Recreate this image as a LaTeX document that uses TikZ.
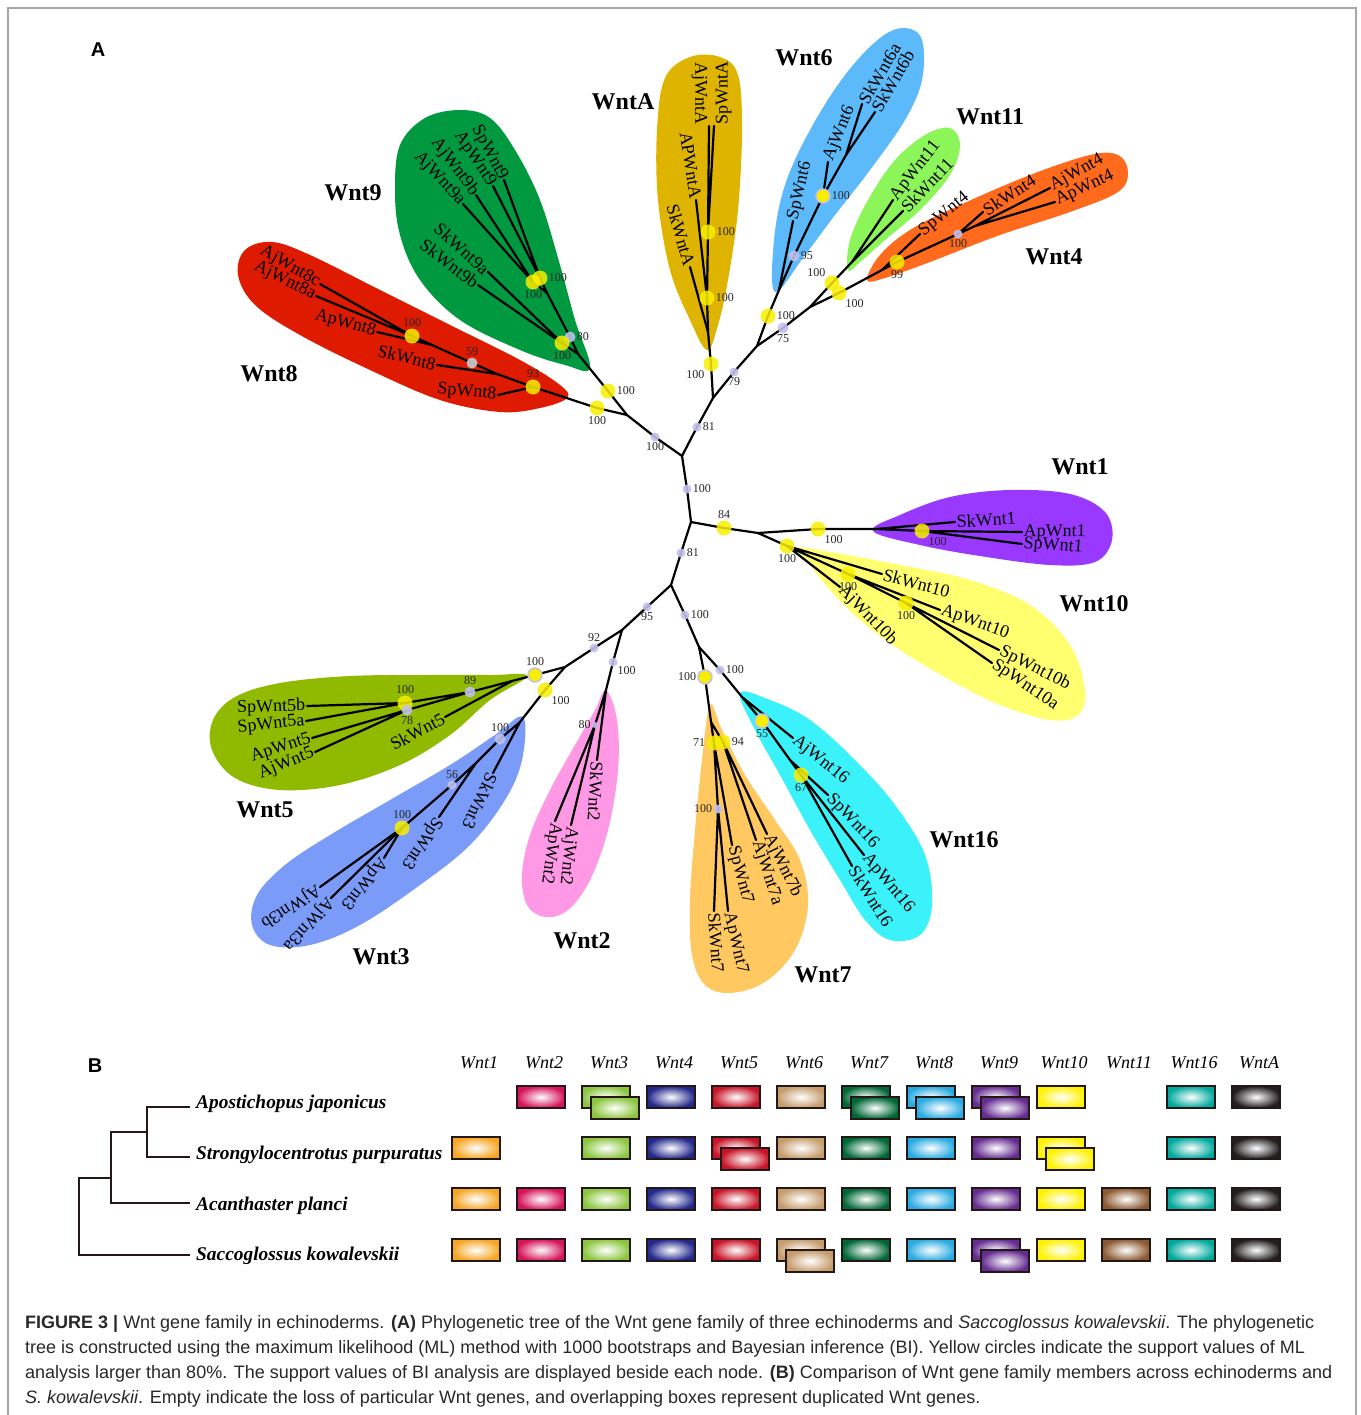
\documentclass[tikz,border=0pt]{standalone}
\usepackage{fontspec}
\setmainfont{Liberation Serif}
\setsansfont{Liberation Sans}
\usetikzlibrary{shapes}
% clade colours
\definecolor{cWnt9}{RGB}{0,153,64}
\definecolor{cWnt8}{RGB}{222,26,0}
\definecolor{cWntA}{RGB}{222,180,0}
\definecolor{cWnt6}{RGB}{92,185,250}
\definecolor{cWnt11}{RGB}{140,245,90}
\definecolor{cWnt4}{RGB}{255,106,28}
\definecolor{cWnt1}{RGB}{153,56,255}
\definecolor{cWnt10}{RGB}{255,255,112}
\definecolor{cWnt5}{RGB}{143,186,0}
\definecolor{cWnt3}{RGB}{122,156,248}
\definecolor{cWnt2}{RGB}{255,153,230}
\definecolor{cWnt7}{RGB}{255,200,96}
\definecolor{cWnt16}{RGB}{60,242,250}
\definecolor{mly}{RGB}{248,238,0}
\definecolor{bilav}{RGB}{192,192,236}
% box colours (Wnt1 ... WntA)
\definecolor{wntc1}{RGB}{245,166,35}
\definecolor{wntc2}{RGB}{214,20,90}
\definecolor{wntc3}{RGB}{140,198,63}
\definecolor{wntc4}{RGB}{35,40,140}
\definecolor{wntc5}{RGB}{200,20,40}
\definecolor{wntc6}{RGB}{198,156,109}
\definecolor{wntc7}{RGB}{0,104,55}
\definecolor{wntc8}{RGB}{41,171,226}
\definecolor{wntc9}{RGB}{102,45,145}
\definecolor{wntc10}{RGB}{255,242,0}
\definecolor{wntc11}{RGB}{140,90,50}
\definecolor{wntc12}{RGB}{0,169,157}
\definecolor{wntc13}{RGB}{35,31,32}
\definecolor{boxedge}{RGB}{35,24,21}
\definecolor{captext}{RGB}{40,40,40}
\tikzstyle{branch}=[line width=2.2pt,black,line cap=round]
\tikzstyle{leaf}=[font=\fontsize{18}{18}\selectfont,inner sep=1.5pt]
\tikzstyle{clade}=[font=\fontsize{24}{24}\selectfont\bfseries]
\tikzstyle{bs}=[font=\fontsize{12}{12}\selectfont,text=black!85,text opacity=1,inner sep=1pt]
\tikzstyle{ydot}=[circle,fill=mly,fill opacity=0.85,minimum size=15pt,inner sep=0pt]
\tikzstyle{pdot}=[circle,fill=bilav,fill opacity=0.9,minimum size=9pt,inner sep=0pt]
\tikzstyle{bdot}=[circle,fill=mly,draw=bilav,line width=1.5pt,minimum size=14pt,inner sep=0pt]
\tikzstyle{panel}=[font=\sffamily\bfseries\fontsize{20}{20}\selectfont]
\tikzstyle{species}=[font=\fontsize{19.4}{19}\selectfont\bfseries\itshape,anchor=base west,inner sep=0pt]
\tikzstyle{colhead}=[font=\fontsize{18}{18}\selectfont\itshape,anchor=base,inner sep=0pt]
\tikzstyle{genebox}=[draw=boxedge,line width=1.3pt,minimum width=48pt,minimum height=22pt,inner sep=0pt]
\tikzstyle{sptree}=[line width=1.5pt,boxedge]
\tikzstyle{caption}=[font=\sffamily\fontsize{18}{25}\selectfont,text=captext,anchor=base west,inner sep=0pt]

\begin{document}
\begin{tikzpicture}[x=1pt,y=-1pt]
\useasboundingbox (0,0) rectangle (1360,1415);
\draw[gray!70,line width=1.2pt] (8,1425) -- (8,8) -- (1356,8) -- (1356,1425);
\node[panel] (A) at (98,50) {A};

% clade areas
\fill[cWnt9] plot[smooth cycle,tension=0.6] coordinates {(590,368) (575,320) (560,265) (540,200) (515,150) (490,118) (460,110) (425,118) (400,145) (395,190) (400,235) (420,280) (460,320) (520,350) (565,365)};
\fill[cWnt8] plot[smooth cycle,tension=0.6] coordinates {(567,398) (540,408) (500,412) (440,400) (370,370) (300,335) (255,305) (238,275) (245,250) (272,242) (310,255) (380,290) (450,325) (520,360) (560,385)};
\fill[cWntA] plot[smooth cycle,tension=0.6] coordinates {(707,350) (690,320) (670,270) (658,200) (657,130) (665,78) (690,57) (720,57) (738,75) (742,130) (738,210) (728,280) (718,325)};
\fill[cWnt6] plot[smooth cycle,tension=0.6] coordinates {(775,292) (774,240) (785,185) (810,130) (845,75) (880,38) (905,28) (922,40) (922,80) (905,120) (870,170) (835,215) (805,255)};
\fill[cWnt11] plot[smooth cycle,tension=0.6] coordinates {(848,270) (850,240) (868,200) (895,160) (925,135) (950,128) (960,145) (950,175) (920,210) (885,240) (860,262)};
\fill[cWnt4] plot[smooth cycle,tension=0.6] coordinates {(867,280) (880,255) (910,230) (960,205) (1030,175) (1090,155) (1118,155) (1128,172) (1118,192) (1070,212) (1000,235) (930,262) (885,278)};
\fill[cWnt1] plot[smooth cycle,tension=0.6] coordinates {(873,531) (900,515) (950,497) (1010,490) (1070,494) (1105,512) (1112,540) (1095,562) (1050,565) (980,556) (920,545)};
\fill[cWnt10] plot[smooth cycle,tension=0.6] coordinates {(797,548) (830,552) (900,565) (970,580) (1030,605) (1070,645) (1085,690) (1078,715) (1050,720) (1000,705) (950,680) (900,650) (860,620) (830,590) (810,565)};
\fill[cWnt5] plot[smooth cycle,tension=0.6] coordinates {(527,676) (490,700) (450,735) (400,765) (340,785) (280,790) (235,778) (212,750) (213,720) (235,697) (280,683) (350,676) (430,675) (490,675)};
\fill[cWnt3] plot[smooth cycle,tension=0.6] coordinates {(523,717) (522,760) (505,800) (470,845) (420,885) (360,925) (310,945) (270,945) (252,925) (257,895) (285,865) (330,835) (390,800) (450,765) (495,735)};
\fill[cWnt2] plot[smooth cycle,tension=0.6] coordinates {(606,690) (617,720) (618,770) (608,830) (590,880) (568,910) (545,917) (527,905) (522,875) (530,835) (550,790) (575,745) (595,710)};
\fill[cWnt7] plot[smooth cycle,tension=0.6] coordinates {(710,705) (722,730) (745,775) (775,820) (800,860) (808,905) (795,950) (765,982) (730,993) (705,985) (692,955) (690,900) (695,830) (702,760)};
\fill[cWnt16] plot[smooth cycle,tension=0.6] coordinates {(740,693) (770,700) (810,720) (855,760) (895,805) (925,855) (932,905) (920,935) (890,940) (865,920) (840,880) (810,830) (780,775) (755,730)};

% tree points
\coordinate (c1) at (682,456);
\coordinate (p100a) at (655,437);
\coordinate (u98) at (627,415);
\coordinate (y8a) at (597,408);
\coordinate (n8) at (533,387);
\coordinate (n8s) at (497,374);
\coordinate (g59) at (472,363);
\coordinate (n8p) at (432,345);
\coordinate (y8c) at (412,336);
\coordinate (y9a) at (608,391);
\coordinate (n9) at (578,354);
\coordinate (p80) at (570,337);
\coordinate (n9u) at (547,293);
\coordinate (y9sp) at (540,278);
\coordinate (y9aj) at (533,282);
\coordinate (y9sk) at (562,343);
\coordinate (p81a) at (697,427);
\coordinate (uA) at (713,398);
\coordinate (yA1) at (711,364);
\coordinate (nA2) at (708,332);
\coordinate (yA2) at (707,298);
\coordinate (yA3) at (708,232);
\coordinate (p79) at (734,372);
\coordinate (u6) at (757,346);
\coordinate (y6) at (768,316);
\coordinate (n6) at (779,290);
\coordinate (p95) at (794,256);
\coordinate (b6) at (823,196);
\coordinate (n6sk) at (846,155);
\coordinate (p75) at (783,328);
\coordinate (u114) at (810,307);
\coordinate (y11) at (832,283);
\coordinate (n11) at (852,262);
\coordinate (y4) at (839,293);
\coordinate (n4) at (882,270);
\coordinate (y99) at (897,262);
\coordinate (p4) at (958,234);
\coordinate (n4aj) at (975,226);
\coordinate (p100b) at (687,489);
\coordinate (c2) at (691,522);
\coordinate (y84) at (724,528);
\coordinate (u110) at (758,533);
\coordinate (y1a) at (818,529);
\coordinate (n1) at (876,529);
\coordinate (y1b) at (922,531);
\coordinate (y10a) at (787,546);
\coordinate (y10b) at (848,574);
\coordinate (y10c) at (906,603);
\coordinate (p81b) at (681,553);
\coordinate (c3) at (671,585);
\coordinate (p95b) at (647,607);
\coordinate (u235) at (622,630);
\coordinate (p92) at (594,648);
\coordinate (u35) at (565,667);
\coordinate (b5) at (535,675);
\coordinate (n5) at (512,681);
\coordinate (p89) at (470,692);
\coordinate (y5) at (405,703);
\coordinate (p78) at (407,710);
\coordinate (y3a) at (545,690);
\coordinate (n3) at (520,722);
\coordinate (p3) at (500,739);
\coordinate (n3s) at (476,763);
\coordinate (p56) at (452,785);
\coordinate (y3b) at (402,828);
\coordinate (p2) at (613,662);
\coordinate (n2) at (606,690);
\coordinate (p80b) at (595,725);
\coordinate (p100c) at (685,615);
\coordinate (u716) at (699,647);
\coordinate (b7) at (705,677);
\coordinate (n7) at (711,722);
\coordinate (y71) at (714,743);
\coordinate (y94) at (723,742);
\coordinate (p7) at (718,809);
\coordinate (p16) at (720,670);
\coordinate (n16) at (742,697);
\coordinate (b55) at (762,721);
\coordinate (n16b) at (790,760);
\coordinate (y67) at (801,775);

% leaves
\node[leaf,rotate=-30,anchor=east] (AjWnt8c) at (320,284) {AjWnt8c};
\node[leaf,rotate=-26,anchor=east] (AjWnt8a) at (316,296) {AjWnt8a};
\node[leaf,rotate=-15,anchor=east] (ApWnt8) at (377,332) {ApWnt8};
\node[leaf,rotate=-14,anchor=east] (SkWnt8) at (437,365) {SkWnt8};
\node[leaf,rotate=-5,anchor=east] (SpWnt8) at (498,395) {SpWnt8};
\node[leaf,rotate=-62,anchor=east] (SpWnt9) at (504,180) {SpWnt9};
\node[leaf,rotate=-56,anchor=east] (ApWnt9) at (493,186) {ApWnt9};
\node[leaf,rotate=-53,anchor=east] (AjWnt9b) at (476,195) {AjWnt9b};
\node[leaf,rotate=-47,anchor=east] (AjWnt9a) at (463,204) {AjWnt9a};
\node[leaf,rotate=-42,anchor=east] (SkWnt9a) at (488,272) {SkWnt9a};
\node[leaf,rotate=-37,anchor=east] (SkWnt9b) at (478,285) {SkWnt9b};
\node[leaf,rotate=-90,anchor=north east] (AjWntA) at (709,126) {AjWntA};
\node[leaf,rotate=90,anchor=north west] (SpWntA) at (714,126) {SpWntA};
\node[leaf,rotate=-81,anchor=east] (APWntA) at (696,200) {APWntA};
\node[leaf,rotate=-74,anchor=east] (SkWntA) at (690,267) {SkWntA};
\node[leaf,rotate=77,anchor=west] (SpWnt6) at (793,221) {SpWnt6};
\node[leaf,rotate=68,anchor=west] (AjWnt6) at (828,162) {AjWnt6};
\node[leaf,rotate=60,anchor=west] (SkWnt6a) at (862,104) {SkWnt6a};
\node[leaf,rotate=60,anchor=west] (SkWnt6b) at (875,112) {SkWnt6b};
\node[leaf,rotate=52,anchor=west] (ApWnt11) at (893,200) {ApWnt11};
\node[leaf,rotate=47,anchor=west] (SkWnt11) at (903,211) {SkWnt11};
\node[leaf,rotate=39,anchor=west] (SpWnt4) at (920,234) {SpWnt4};
\node[leaf,rotate=33,anchor=west] (SkWnt4) at (983,212) {SkWnt4};
\node[leaf,rotate=29,anchor=west] (AjWnt4) at (1050,188) {AjWnt4};
\node[leaf,rotate=25,anchor=west] (ApWnt4) at (1055,202) {ApWnt4};
\node[leaf,rotate=4,anchor=west] (SkWnt1) at (955,522) {SkWnt1};
\node[leaf,rotate=-1,anchor=west] (ApWnt1) at (1022,532) {ApWnt1};
\node[leaf,rotate=-4,anchor=west] (SpWnt1) at (1022,544) {SpWnt1};
\node[leaf,rotate=-15,anchor=west] (SkWnt10) at (882,574) {SkWnt10};
\node[leaf,rotate=-20,anchor=west] (ApWnt10) at (940,610) {ApWnt10};
\node[leaf,rotate=-27,anchor=west] (SpWnt10b) at (999,650) {SpWnt10b};
\node[leaf,rotate=-34,anchor=west] (SpWnt10a) at (992,663) {SpWnt10a};
\node[leaf,rotate=-46,anchor=west] (AjWnt10b) at (840,587) {AjWnt10b};
\node[leaf,rotate=-39,anchor=west] (AjWnt16) at (793,738) {AjWnt16};
\node[leaf,rotate=-47,anchor=west] (SpWnt16) at (828,795) {SpWnt16};
\node[leaf,rotate=-50,anchor=west] (ApWnt16) at (864,855) {ApWnt16};
\node[leaf,rotate=-58,anchor=west] (SkWnt16) at (852,866) {SkWnt16};
\node[leaf,rotate=-64,anchor=west] (AjWnt7b) at (767,834) {AjWnt7b};
\node[leaf,rotate=-72,anchor=west] (AjWnt7a) at (756,840) {AjWnt7a};
\node[leaf,rotate=-75,anchor=west] (SpWnt7) at (732,845) {SpWnt7};
\node[leaf,rotate=-77,anchor=west] (ApWnt7) at (728,911) {ApWnt7};
\node[leaf,rotate=-86,anchor=west] (SkWnt7) at (714,911) {SkWnt7};
\node[leaf,rotate=-93,anchor=west] (SkWnt2) at (597,760) {SkWnt2};
\node[leaf,rotate=-96,anchor=west] (AjWnt2) at (571,825) {AjWnt2};
\node[leaf,rotate=-98,anchor=west] (ApWnt2) at (555,821) {ApWnt2};
\node[leaf,rotate=-115,anchor=west] (SkWnt3) at (493,773) {SkWnt3};
\node[leaf,rotate=-124,anchor=west] (SpWnt3) at (439,817) {SpWnt3};
\node[leaf,rotate=-129,anchor=west] (ApWnt3) at (384,858) {ApWnt3};
\node[leaf,rotate=-132,anchor=west] (AjWnt3a) at (331,898) {AjWnt3a};
\node[leaf,rotate=-147,anchor=west] (AjWnt3b) at (320,887) {AjWnt3b};
\node[leaf,rotate=2,anchor=east] (SpWnt5b) at (307,706) {SpWnt5b};
\node[leaf,rotate=6,anchor=east] (SpWnt5a) at (306,721) {SpWnt5a};
\node[leaf,rotate=18,anchor=east] (ApWnt5) at (312,738) {ApWnt5};
\node[leaf,rotate=22,anchor=east] (AjWnt5) at (315,752) {AjWnt5};
\node[leaf,rotate=28,anchor=east] (SkWnt5) at (445,717) {SkWnt5};

% branches
\draw[branch] (u98) -- (p100a) -- (c1) -- (p81a) -- (uA);
\draw[branch] (c1) -- (p100b) -- (c2) -- (p81b) -- (c3);
\draw[branch] (u98) -- (y8a) -- (n8) -- (n8s) -- (g59) -- (n8p) -- (y8c);
\draw[branch] (n8) -- (SpWnt8.east) (n8s) -- (SkWnt8.east) (n8p) -- (ApWnt8.east)
  (y8c) -- (AjWnt8c.east) (y8c) -- (AjWnt8a.east);
\draw[branch] (u98) -- (y9a) -- (n9) -- (p80) -- (n9u) (n9) -- (y9sk)
  (n9u) -- (y9sp) (n9u) -- (y9aj);
\draw[branch] (y9sp) -- (SpWnt9.east) (y9sp) -- (ApWnt9.east) (y9aj) -- (AjWnt9b.east)
  (y9aj) -- (AjWnt9a.east) (y9sk) -- (SkWnt9a.east) (y9sk) -- (SkWnt9b.east);
\draw[branch] (uA) -- (yA1) -- (nA2) -- (yA2) -- (yA3);
\draw[branch] (nA2) -- (SkWntA.east) (yA2) -- (APWntA.east) (yA3) -- (AjWntA.north east)
  (yA3) -- (SpWntA.north west);
\draw[branch] (uA) -- (p79) -- (u6) -- (y6) -- (n6) -- (p95) -- (b6) -- (n6sk);
\draw[branch] (n6) -- (SpWnt6.west) (b6) -- (AjWnt6.west) (n6sk) -- (SkWnt6a.west)
  (n6sk) -- (SkWnt6b.west);
\draw[branch] (u6) -- (p75) -- (u114) -- (y11) -- (n11) (n11) -- (ApWnt11.west)
  (n11) -- (SkWnt11.west);
\draw[branch] (u114) -- (y4) -- (n4) -- (y99) -- (p4) -- (n4aj) (n4) -- (SpWnt4.west)
  (p4) -- (SkWnt4.west) (n4aj) -- (AjWnt4.west) (n4aj) -- (ApWnt4.west);
\draw[branch] (c2) -- (y84) -- (u110) -- (y1a) -- (n1) -- (y1b) (n1) -- (SkWnt1.west)
  (y1b) -- (ApWnt1.west) (y1b) -- (SpWnt1.west);
\draw[branch] (u110) -- (y10a) -- (y10b) -- (y10c) (y10a) -- (SkWnt10.west)
  (y10a) -- (AjWnt10b.west) (y10b) -- (ApWnt10.west) (y10c) -- (SpWnt10b.west)
  (y10c) -- (SpWnt10a.west);
\draw[branch] (c3) -- (p95b) -- (u235) -- (p92) -- (u35) -- (b5) -- (n5) -- (p89) -- (y5)
  (p89) -- (p78);
\draw[branch] (n5) -- (SkWnt5.east) (y5) -- (SpWnt5b.east) (y5) -- (SpWnt5a.east)
  (p78) -- (ApWnt5.east) (p78) -- (AjWnt5.east);
\draw[branch] (u35) -- (y3a) -- (n3) -- (p3) -- (n3s) -- (p56) -- (y3b)
  (n3) -- (SkWnt3.west) (n3s) -- (SpWnt3.west) (y3b) -- (ApWnt3.west)
  (y3b) -- (AjWnt3a.west) (y3b) -- (AjWnt3b.west);
\draw[branch] (u235) -- (p2) -- (n2) -- (p80b) (n2) -- (SkWnt2.west)
  (p80b) -- (AjWnt2.west) (p80b) -- (ApWnt2.west);
\draw[branch] (c3) -- (p100c) -- (u716) -- (b7) -- (n7) -- (y71) -- (p7) (n7) -- (y94)
  (y71) -- (SpWnt7.west) (p7) -- (SkWnt7.west) (p7) -- (ApWnt7.west)
  (y94) -- (AjWnt7a.west) (y94) -- (AjWnt7b.west);
\draw[branch] (u716) -- (p16) -- (n16) -- (b55) -- (n16b) -- (y67) (n16) -- (AjWnt16.west)
  (n16b) -- (SpWnt16.west) (y67) -- (ApWnt16.west) (y67) -- (SkWnt16.west);

% support values
\node[pdot,label={[bs]below:100}] (d-p100a) at (p100a) {};
\node[pdot,label={[bs]right:81}] (d-p81a) at (p81a) {};
\node[pdot,label={[bs]right:100}] (d-p100b) at (p100b) {};
\node[ydot,label={[bs]above:84}] (d-y84) at (y84) {};
\node[ydot,label={[bs]below right:100}] (d-y1a) at (y1a) {};
\node[ydot,label={[bs]below right:100}] (d-y1b) at (y1b) {};
\node[ydot,label={[bs]below:100}] (d-y10a) at (y10a) {};
\node[ydot,label={[bs]below:100}] (d-y10b) at (y10b) {};
\node[ydot,label={[bs]below:100}] (d-y10c) at (y10c) {};
\node[pdot,label={[bs]right:81}] (d-p81b) at (p81b) {};
\node[pdot,label={[bs]below:95}] (d-p95b) at (p95b) {};
\node[pdot,label={[bs]above:92}] (d-p92) at (p92) {};
\node[bdot,label={[bs]above:100}] (d-b5) at (b5) {};
\node[pdot,minimum size=11pt,label={[bs]above:89}] (d-p89) at (p89) {};
\node[ydot,label={[bs]above:100}] (d-y5) at (y5) {};
\node[pdot,minimum size=11pt,label={[bs]below:78}] (d-p78) at (p78) {};
\node[ydot,label={[bs]below right:100}] (d-y3a) at (y3a) {};
\node[pdot,minimum size=11pt,label={[bs]above:100}] (d-p3) at (p3) {};
\node[pdot,label={[bs]above:56}] (d-p56) at (p56) {};
\node[ydot,label={[bs]above:100}] (d-y3b) at (y3b) {};
\node[pdot,label={[bs]below right:100}] (d-p2) at (p2) {};
\node[pdot,minimum size=6pt,label={[bs]left:80}] (d-p80b) at (p80b) {};
\node[pdot,label={[bs]right:100}] (d-p100c) at (p100c) {};
\node[bdot,label={[bs]left:100}] (d-b7) at (b7) {};
\node[ydot,label={[bs]left:71}] (d-y71) at (y71) {};
\node[ydot,label={[bs]right:94}] (d-y94) at (y94) {};
\node[pdot,label={[bs]left:100}] (d-p7) at (p7) {};
\node[pdot,label={[bs]right:100}] (d-p16) at (p16) {};
\node[bdot,label={[bs]below:55}] (d-b55) at (b55) {};
\node[ydot,label={[bs]below:67}] (d-y67) at (y67) {};
\node[ydot,label={[bs]below:100}] (d-y8a) at (y8a) {};
\node[ydot,label={[bs]above:93}] (d-n8) at (n8) {};
\node[pdot,fill=black!20,minimum size=11pt,label={[bs]above:59}] (d-g59) at (g59) {};
\node[ydot,label={[bs]above:100}] (d-y8c) at (y8c) {};
\node[ydot,label={[bs]right:100}] (d-y9a) at (y9a) {};
\node[pdot,minimum size=11pt,label={[bs]right:80}] (d-p80) at (p80) {};
\node[ydot,label={[bs]below:100}] (d-y9sk) at (y9sk) {};
\node[ydot,label={[bs]right:100}] (d-y9sp) at (y9sp) {};
\node[ydot,label={[bs]below:100}] (d-y9aj) at (y9aj) {};
\node[ydot,label={[bs]below left:100}] (d-yA1) at (yA1) {};
\node[ydot,label={[bs]right:100}] (d-yA2) at (yA2) {};
\node[ydot,label={[bs]right:100}] (d-yA3) at (yA3) {};
\node[pdot,label={[bs]below:79}] (d-p79) at (p79) {};
\node[ydot,label={[bs]right:100}] (d-y6) at (y6) {};
\node[pdot,minimum size=11pt,label={[bs]right:95}] (d-p95) at (p95) {};
\node[bdot,label={[bs]right:100}] (d-b6) at (b6) {};
\node[pdot,minimum size=11pt,label={[bs]below:75}] (d-p75) at (p75) {};
\node[ydot,label={[bs]above left:100}] (d-y11) at (y11) {};
\node[ydot,label={[bs]below right:100}] (d-y4) at (y4) {};
\node[ydot,label={[bs]below:99}] (d-y99) at (y99) {};
\node[pdot,label={[bs]below:100}] (d-p4) at (p4) {};

% clade names
\node[clade] (L-Wnt9) at (353,193) {Wnt9};
\node[clade] (L-WntA) at (623,102) {WntA};
\node[clade] (L-Wnt6) at (804,58) {Wnt6};
\node[clade] (L-Wnt11) at (990,117) {Wnt11};
\node[clade] (L-Wnt4) at (1054,257) {Wnt4};
\node[clade] (L-Wnt8) at (269,374) {Wnt8};
\node[clade] (L-Wnt1) at (1080,467) {Wnt1};
\node[clade] (L-Wnt10) at (1094,604) {Wnt10};
\node[clade] (L-Wnt5) at (265,810) {Wnt5};
\node[clade] (L-Wnt3) at (381,957) {Wnt3};
\node[clade] (L-Wnt2) at (582,941) {Wnt2};
\node[clade] (L-Wnt7) at (823,975) {Wnt7};
\node[clade] (L-Wnt16) at (964,840) {Wnt16};

% panel B
\node[panel] (B) at (95,1066) {B};
\coordinate (e-Aj) at (190,1107);
\coordinate (e-Sp) at (190,1157);
\coordinate (e-Ap) at (190,1203);
\coordinate (e-Sk) at (190,1255);
\coordinate (k1) at (147,1132);
\coordinate (k2) at (111,1178);
\coordinate (k3) at (79,1216);
\draw[sptree] (e-Aj) -| (k1) |- (e-Sp);
\draw[sptree] (k1) -| (k2) |- (e-Ap);
\draw[sptree] (k2) -| (k3) |- (e-Sk);
\node[species] (sp-Aj) at (196,1108) {Apostichopus japonicus};
\node[species] (sp-Sp) at (196,1159) {Strongylocentrotus purpuratus};
\node[species] (sp-Ap) at (196,1210) {Acanthaster planci};
\node[species] (sp-Sk) at (196,1260) {Saccoglossus kowalevskii};
\foreach \name [count=\i] in {Wnt1,Wnt2,Wnt3,Wnt4,Wnt5,Wnt6,Wnt7,Wnt8,Wnt9,Wnt10,Wnt11,Wnt16,WntA}
  \node[colhead] (h-\i) at ({479+65*(\i-1)},1068) {\name};
\foreach \row/\yy/\counts in {1/1097/{0,1,2,1,1,1,2,2,2,1,0,1,1},
                            2/1148/{1,0,1,1,2,1,1,1,1,2,0,1,1},
                            3/1199/{1,1,1,1,1,1,1,1,1,1,1,1,1},
                            4/1250/{1,1,1,1,1,2,1,1,2,1,1,1,1}}
  \foreach \n [count=\i] in \counts {
    \ifnum\n>0
      \node[genebox,inner color=white,outer color=wntc\i] (g-\row-\i) at ({476+65*(\i-1)},\yy) {};
    \fi
    \ifnum\n>1
      \node[genebox,inner color=white,outer color=wntc\i] (g-\row-\i-b) at ({485+65*(\i-1)},\yy+11) {};
    \fi
  };

% caption
\node[caption] (cap1) at (25,1328) {\textbf{FIGURE 3 |} Wnt gene family in echinoderms. \textbf{(A)} Phylogenetic tree of the Wnt gene family of three echinoderms and \textit{Saccoglossus kowalevskii}. The phylogenetic};
\node[caption] (cap2) at (25,1353) {tree is constructed using the maximum likelihood (ML) method with 1000 bootstraps and Bayesian inference (BI). Yellow circles indicate the support values of ML};
\node[caption] (cap3) at (25,1378) {analysis larger than 80\%. The support values of BI analysis are displayed beside each node. \textbf{(B)} Comparison of Wnt gene family members across echinoderms and};
\node[caption] (cap4) at (25,1403) {\textit{S. kowalevskii}. Empty indicate the loss of particular Wnt genes, and overlapping boxes represent duplicated Wnt genes.};
\end{tikzpicture}
\end{document}
